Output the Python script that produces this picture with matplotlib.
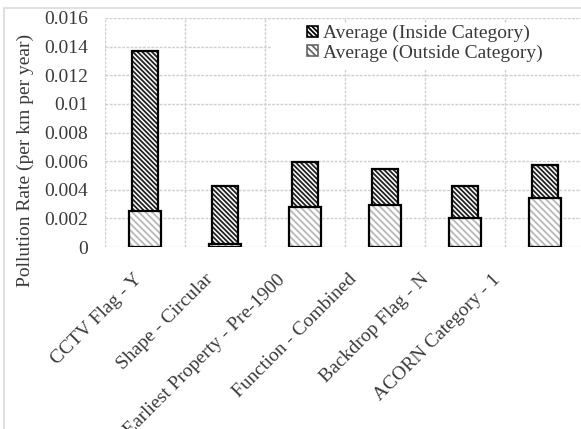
import numpy as np
import matplotlib.pyplot as plt
import matplotlib.transforms as mtransforms
from matplotlib.patches import Rectangle, Patch

# data
kategorier = ["CCTV Flag - Y", "Shape - Circular", "Earliest Property - Pre-1900",
              "Function - Combined", "Backdrop Flag - N", "ACORN Category - 1"]
inne = [0.0137, 0.00426, 0.00594, 0.00545, 0.00426, 0.00573]
ute = [0.00252, 0.0002, 0.00277, 0.00293, 0.00200, 0.00344]
yticks = [0, 0.002, 0.004, 0.006, 0.008, 0.01, 0.012, 0.014, 0.016]
ytekst = ["0", "0.002", "0.004", "0.006", "0.008", "0.01", "0.012", "0.014", "0.016"]

plt.rcParams['font.family'] = ['Liberation Serif', 'DejaVu Serif']
plt.rcParams['hatch.linewidth'] = 1.3

tekstfarge = "#3a3a3a"
gridfarge = "#cfcfcf"
tett = "\\" * 7      # tett skravur (inne)
lys = "\\" * 5       # lys skravur (ute)

fig = plt.figure(figsize=(5.81, 4.29), dpi=100)
# ramme rundt hele diagrammet
fig.patches.append(Rectangle((4/581, -0.1), 1.2, (429-8)/429 + 0.1, transform=fig.transFigure,
                             fill=False, edgecolor="#d9d9d9", linewidth=1.2))

ax = fig.add_axes([105/581, 1 - 247/429, 480/581, (247-18)/429])
ax.set_axisbelow(True)
x = np.arange(len(kategorier))

# inne-kategori (smal, tett skravur) bak
ax.bar(x, inne, width=0.325, color="white", edgecolor="#222222", hatch=tett, linewidth=0, zorder=2)
ax.bar(x, inne, width=0.325, fill=False, edgecolor="black", linewidth=1.6, zorder=2.1)
# ute-kategori (bred, lys skravur) foran
ax.bar(x, ute, width=0.41, color="white", edgecolor="#b8b8b8", hatch=lys, linewidth=0, zorder=3)
ax.bar(x, ute, width=0.41, fill=False, edgecolor="black", linewidth=1.6, zorder=3.1)

ax.set_xlim(-0.5, len(kategorier) - 0.5)
ax.set_ylim(0, 0.016)
ax.set_yticks(yticks)
ax.set_yticklabels(ytekst)
ax.set_xticks(x)
ax.set_xticklabels([])
# etikettene står litt tettere enn kategoriene i originalen
for i, navn in enumerate(kategorier):
    forskyv = mtransforms.ScaledTranslation((-12 - 8.2 * i) / 100, -24 / 100, fig.dpi_scale_trans)
    ax.text(x[i], 0, navn, transform=ax.get_xaxis_transform() + forskyv, rotation=45,
            ha="right", va="top", rotation_mode="anchor", fontsize=14, color=tekstfarge)
ax.set_xticks(np.arange(-0.5, len(kategorier)), minor=True)
ax.tick_params(axis="both", which="both", length=0, labelsize=14, colors=tekstfarge)
ax.tick_params(axis="y", pad=12)
ax.grid(True, axis="y", which="major", color=gridfarge, linestyle=(0, (2, 1)), linewidth=1)
ax.grid(True, axis="x", which="minor", color=gridfarge, linestyle=(0, (2, 1)), linewidth=1)
for s in ax.spines.values():
    s.set_visible(False)

ax.set_ylabel("Pollution Rate (per km per year)", fontsize=14, color=tekstfarge)
ax.yaxis.set_label_coords(-71/480, 0.38)

# hvit bakgrunn bak forklaringen
ax.add_patch(Rectangle((167/480, (247-70)/229), 1, 46/229, transform=ax.transAxes,
                       facecolor="white", edgecolor="none", zorder=1))
handles = [Patch(facecolor="white", edgecolor="black", hatch=tett, linewidth=1.2),
           Patch(facecolor="white", edgecolor="#666666", hatch=lys, linewidth=1.2)]
leg = ax.legend(handles, ["Average (Inside Category)", "Average (Outside Category)"],
                loc="upper left", bbox_to_anchor=(202/480, (247-25)/229), frameon=False,
                fontsize=14, handlelength=0.55, handleheight=0.55, handletextpad=0.25,
                labelspacing=0.1, borderpad=0, borderaxespad=0, labelcolor=tekstfarge)
leg.set_zorder(5)

fig.savefig("out.png", dpi=100)
